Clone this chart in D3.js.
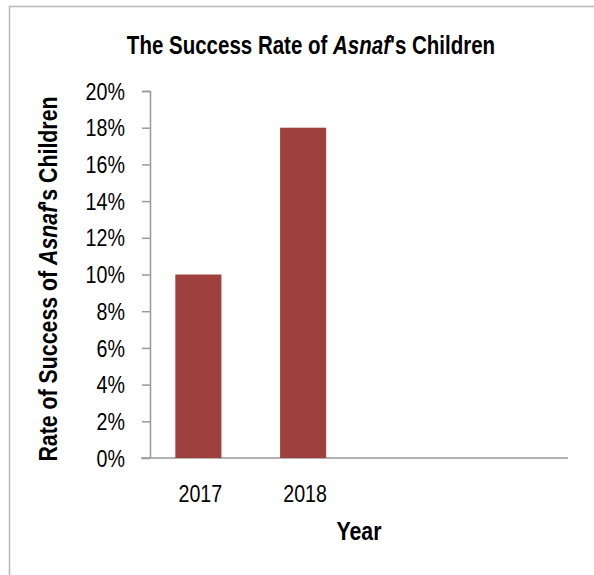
<!DOCTYPE html>
<html>
<head>
<meta charset="utf-8">
<script src="https://cdn.jsdelivr.net/npm/d3@7"></script>
<style>
  body { margin: 0; background: #fff; }
  text { font-family: "Liberation Sans Narrow", "Arial Narrow", "Liberation Sans", Arial, sans-serif; fill: #000; }
</style>
</head>
<body>
<div id="chart"></div>
<script>
// Data
const years = ["2017", "2018", "", " "];
const rates = [0.10, 0.18, null, null];
const yTicks = [0, 0.02, 0.04, 0.06, 0.08, 0.10, 0.12, 0.14, 0.16, 0.18, 0.20];

const W = 594, H = 575;
const narrow = 0.82;   // fake "Arial Narrow" by squeezing Liberation Sans

const svg = d3.select("#chart")
  .append("svg")
    .attr("width", W)
    .attr("height", H);

// Outer frame (top + left edges visible)
svg.append("path")
  .attr("d", `M9.5,${H} V6.5 H${W}`)
  .attr("fill", "none")
  .attr("stroke", "#b8b8b8")
  .attr("stroke-width", 1.5);

// Scales
const x = d3.scaleBand()
  .domain(years)
  .range([146, 565])
  .paddingInner(0.56)
  .paddingOuter(0.28);

const y = d3.scaleLinear()
  .domain([0, 0.20])
  .range([458, 91]);

// Y axis
const yAxis = svg.append("g")
  .attr("transform", "translate(150,0)")
  .call(d3.axisLeft(y).tickValues(yTicks).tickFormat(d3.format(".0%")).tickSize(8).tickPadding(17));
yAxis.select(".domain").attr("stroke", "#999").attr("stroke-width", 1.5).attr("d", "M-8,91.5H0.5V458");
yAxis.selectAll(".tick line").attr("stroke", "#999").attr("stroke-width", 1.5);
yAxis.selectAll(".tick text")
  .style("font-size", "24px")
  .attr("dy", "0.34em")
  .attr("x", -25 / narrow)
  .attr("transform", `scale(${narrow},1)`);

// X axis line
svg.append("line")
  .attr("x1", 141).attr("x2", 568)
  .attr("y1", y(0)).attr("y2", y(0))
  .attr("stroke", "#999")
  .attr("stroke-width", 1.5);

// Bars
svg.append("g")
  .selectAll("rect")
  .data(years.map((d, i) => ({year: d, rate: rates[i]})).filter(d => d.rate != null))
  .join("rect")
    .attr("x", d => x(d.year))
    .attr("y", d => y(d.rate))
    .attr("width", x.bandwidth())
    .attr("height", d => y(0) - y(d.rate))
    .attr("fill", "#9e403e");

// X labels
svg.append("g")
  .selectAll("text")
  .data(years.filter(d => d.trim() !== ""))
  .join("text")
    .attr("transform", d => `translate(${x(d) + x.bandwidth() / 2 + 2},502) scale(${narrow},1)`)
    .attr("text-anchor", "middle")
    .style("font-size", "24px")
    .text(d => d);

// X axis title
svg.append("text")
  .attr("transform", `translate(359,540) scale(${narrow},1)`)
  .attr("text-anchor", "middle")
  .style("font-size", "26px")
  .style("font-weight", "bold")
  .text("Year");

// Y axis title
const yt = svg.append("text")
  .attr("transform", `translate(57,279) rotate(-90) scale(${narrow},1)`)
  .attr("text-anchor", "middle")
  .style("font-size", "26px")
  .style("font-weight", "bold");
yt.append("tspan").text("Rate of Success of ");
yt.append("tspan").style("font-style", "italic").text("Asnaf");
yt.append("tspan").text("'s Children");

// Title
const title = svg.append("text")
  .attr("transform", `translate(311,54) scale(${narrow},1)`)
  .attr("text-anchor", "middle")
  .style("font-size", "25px")
  .style("font-weight", "bold");
title.append("tspan").text("The Success Rate of ");
title.append("tspan").style("font-style", "italic").text("Asnaf");
title.append("tspan").text("'s Children");
</script>
</body>
</html>
